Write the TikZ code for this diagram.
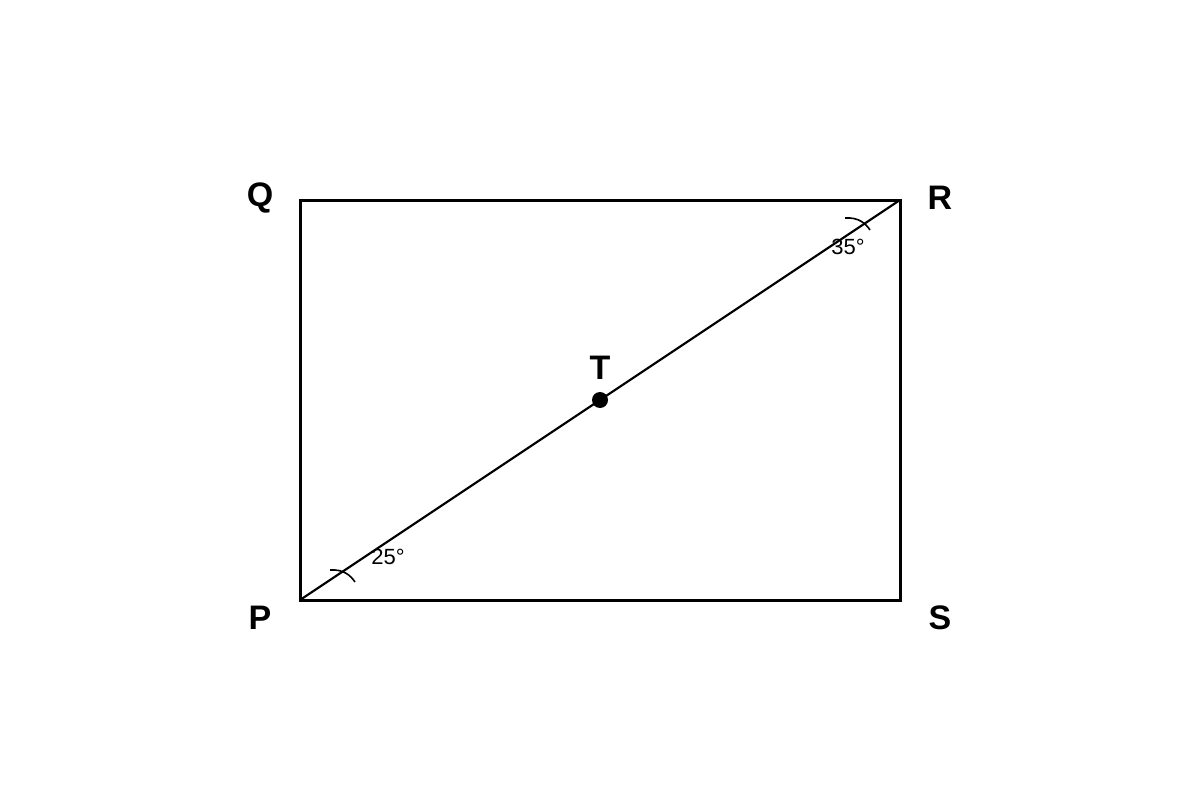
\documentclass[tikz,border=0pt]{standalone}
\usepackage{fontspec}
\setmainfont{Liberation Sans}
\begin{document}
\begin{tikzpicture}[x=1pt,y=-1pt,
  vlabel/.style={font=\fontsize{34}{34}\selectfont\bfseries, inner sep=0pt},
  alabel/.style={font=\fontsize{22}{22}\selectfont, inner sep=0pt},
  edge/.style={line width=3pt},
  diag/.style={line width=2.2pt},
  arcmark/.style={line width=1.6pt}]
\useasboundingbox (0,0) rectangle (1200,800);
\coordinate (P) at (300,600);
\coordinate (Q) at (300,200);
\coordinate (R) at (900,200);
\coordinate (S) at (900,600);
\coordinate (T) at (600,400);
\draw[edge] (P) -- (Q) -- (R) -- (S) -- cycle;
\draw[diag] (P) -- (R);
\fill (T) circle (8);
\node[vlabel] (lQ) at (260,198) {Q};
\node[vlabel] (lR) at (940,198) {R};
\node[vlabel] (lP) at (260,618) {P};
\node[vlabel] (lS) at (940,618) {S};
\node[vlabel] (lT) at (600,368) {T};
\node[alabel] (a25) at (388,557) {25°};
\node[alabel] (a35) at (848,247) {35°};
\draw[arcmark] (330,570) .. controls (344,569) and (351,576) .. (355,582);
\draw[arcmark] (845,218) .. controls (859,217) and (866,224) .. (870,230);
\end{tikzpicture}
\end{document}
